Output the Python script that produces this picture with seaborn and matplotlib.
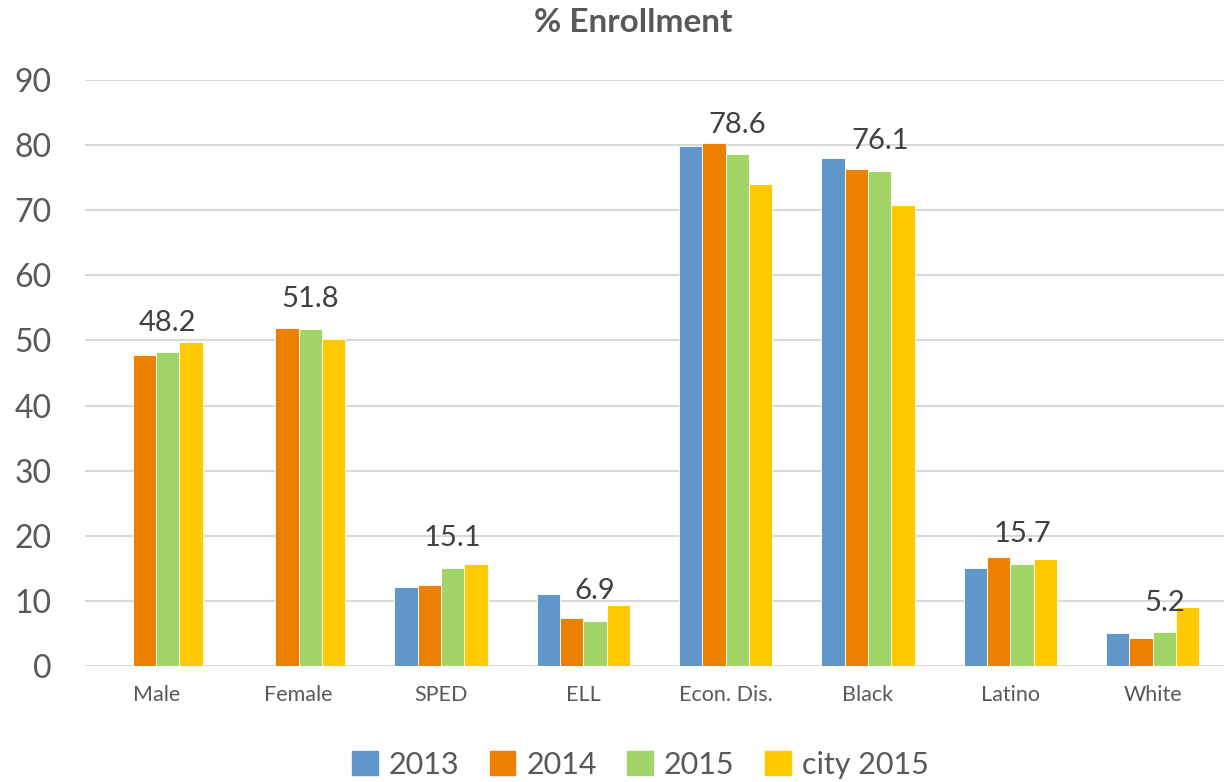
import numpy as np
import pandas as pd
import seaborn as sns
import matplotlib.pyplot as plt

# data
categories = ["Male", "Female", "SPED", "ELL", "Econ. Dis.", "Black", "Latino", "White"]
series = ["2013", "2014", "2015", "city 2015"]
vals_2013 = [np.nan, np.nan, 12.1, 11.0, 79.9, 78.0, 15.0, 5.1]
vals_2014 = [47.8, 51.9, 12.4, 7.4, 80.3, 76.4, 16.8, 4.3]
vals_2015 = [48.2, 51.8, 15.1, 6.9, 78.6, 76.1, 15.7, 5.2]
vals_city = [49.7, 50.2, 15.7, 9.3, 74.0, 70.8, 16.5, 9.1]
colors = ["#6096CA", "#EC8000", "#A2D468", "#FFC900"]

rows = []
for name, vals in zip(series, [vals_2013, vals_2014, vals_2015, vals_city]):
    for cat, v in zip(categories, vals):
        rows.append({"category": cat, "series": name, "value": v})
df = pd.DataFrame(rows)

sns.set_style("white")
plt.rcParams["font.family"] = ["Lato", "DejaVu Sans"]
grey = "#595959"

fig = plt.figure(figsize=(12.24, 7.82), dpi=100)
ax = fig.add_axes([0.0694, 0.1483, 0.9306, 0.7494])

sns.barplot(data=df, x="category", y="value", hue="series", hue_order=series,
            order=categories, palette=colors, width=0.655, gap=0,
            edgecolor="white", linewidth=0.6, saturation=1, ax=ax, legend=False)

# labels only on the 2015 bars
ax.bar_label(ax.containers[2], labels=[f"{v:.1f}" for v in vals_2015],
             padding=12, fontsize=21, color="#404040")

ax.set_ylim(0, 90)
ax.set_xlim(-0.5, len(categories) - 0.5)
ax.set_yticks(range(0, 91, 10))
ax.yaxis.grid(True, color="#D9D9D9", linewidth=1.5)
ax.set_axisbelow(True)
for s in ax.spines.values():
    s.set_visible(False)
ax.tick_params(axis="y", labelsize=23, colors=grey, length=0, pad=24)
ax.tick_params(axis="x", labelsize=15.5, colors=grey, length=0, pad=14)
ax.set_xlabel("")
ax.set_ylabel("")

fig.text(0.517, 0.971, "% Enrollment", ha="center", va="center",
         fontsize=24, fontweight="bold", color=grey)

handles = [plt.Rectangle((0, 0), 1, 1, color=c) for c in colors]
fig.legend(handles, series, loc="center", bbox_to_anchor=(0.523, 0.022), ncol=4,
           frameon=False, fontsize=22, labelcolor=grey, handlelength=0.85,
           handleheight=0.85, handletextpad=0.35, columnspacing=1.0)

fig.savefig("out.png", dpi=100)
